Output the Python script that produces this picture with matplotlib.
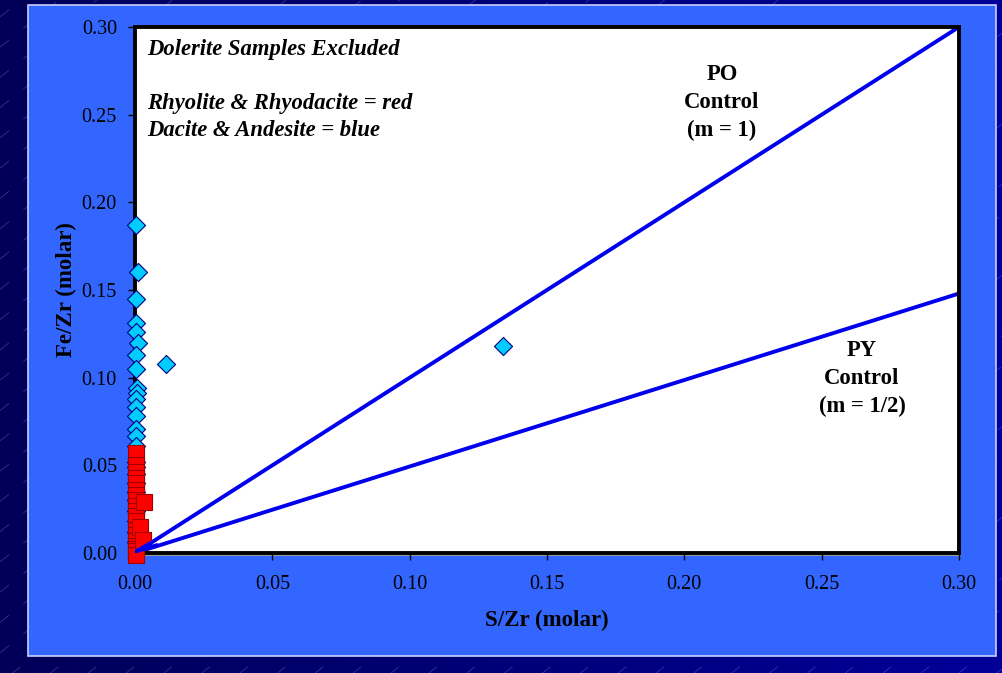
import matplotlib
matplotlib.use("Agg")
import matplotlib.pyplot as plt
import numpy as np
from matplotlib.patches import Rectangle
from matplotlib.colors import LinearSegmentedColormap

# ---- data ----
blue_x = [0.0004, 0.0012, 0.0004, 0.0004, 0.0004, 0.0012, 0.0004, 0.0004, 0.0006, 0.0008,
          0.0004, 0.0004, 0.0004, 0.0004, 0.0004, 0.0004, 0.0004, 0.0004, 0.0004, 0.0004,
          0.0004, 0.0004, 0.0004, 0.0004, 0.0004, 0.0004, 0.0113, 0.134]
blue_y = [0.187, 0.160, 0.145, 0.131, 0.126, 0.120, 0.113, 0.105, 0.094, 0.091,
          0.088, 0.083, 0.078, 0.071, 0.067, 0.061, 0.052, 0.049, 0.045, 0.040,
          0.035, 0.030, 0.024, 0.018, 0.012, 0.006, 0.108, 0.118]

red_x = [0.0005, 0.0005, 0.0005, 0.0005, 0.0005, 0.0005, 0.0005, 0.0005, 0.0005, 0.0005,
         0.0005, 0.0005, 0.0005, 0.0005, 0.0005, 0.0005, 0.0005, 0.0005, 0.0005, 0.0033,
         0.0020, 0.0030]
red_y = [0.057, 0.050, 0.046, 0.043, 0.040, 0.036, 0.033, 0.030, 0.027, 0.024,
         0.021, 0.018, 0.013, 0.010, 0.007, 0.004, 0.002, 0.001, -0.001, 0.029,
         0.015, 0.0075]

po_x = [0.0, 0.30]
po_y = [0.0, 0.30]
py_x = [0.0, 0.30]
py_y = [0.0, 0.148]

ticks = [0.00, 0.05, 0.10, 0.15, 0.20, 0.25, 0.30]
tick_labels = ["0.00", "0.05", "0.10", "0.15", "0.20", "0.25", "0.30"]

W, H = 1003, 673
fig = plt.figure(figsize=(W / 100, H / 100), dpi=100)

# background gradient
bg = fig.add_axes([0, 0, 1, 1], zorder=-10)
grad = np.linspace(0, 1, 256).reshape(1, -1)
cmap = LinearSegmentedColormap.from_list("bg", ["#000058", "#000078", "#000099"])
bg.imshow(grad, aspect="auto", cmap=cmap, extent=[0, 1, 0, 1])
for c in np.arange(-1.5, 1.0, 0.045):
    xs = np.array([0, 1])
    ys = c + xs * (W / H) * 0.8
    bg.plot(xs, ys, color="#8080dd", lw=0.6, alpha=0.4, ls=(0, (14, 22)))
bg.set_xlim(0, 1)
bg.set_ylim(0, 1)
bg.axis("off")

# blue panel
px0, px1, py0, py1 = 28 / W, 996 / W, 1 - 656 / H, 1 - 5 / H
fig.patches.append(Rectangle((px0, py0), px1 - px0, py1 - py0, transform=fig.transFigure,
                             facecolor="#3366FF", edgecolor="#c8d0ff", lw=1.2, zorder=-5))

# shadow of plot area
ax_l, ax_r, ax_t, ax_b = 135 / W, 959 / W, 1 - 27 / H, 1 - 553 / H
fig.patches.append(Rectangle((ax_l + 2 / W, ax_b - 3 / H), ax_r - ax_l, ax_t - ax_b,
                             transform=fig.transFigure, facecolor="#9a9a9a",
                             edgecolor="none", zorder=-4))

ax = fig.add_axes([ax_l, ax_b, ax_r - ax_l, ax_t - ax_b])
ax.set_facecolor("white")
for s in ax.spines.values():
    s.set_linewidth(2.8)
    s.set_color("black")

ax.plot(po_x, po_y, color="#0000EE", lw=2.8, zorder=2, solid_capstyle="round")
ax.plot(py_x, py_y, color="#0000EE", lw=2.8, zorder=2, solid_capstyle="round")

ax.scatter(blue_x, blue_y, marker="D", s=85, facecolor="#00CCFF", edgecolor="#000080",
           linewidth=0.8, zorder=3, clip_on=False)
ax.scatter(red_x, red_y, marker="s", s=125, facecolor="#FF0000", edgecolor="#A00000",
           linewidth=0.8, zorder=4, clip_on=False)
# line origins drawn over the red markers near (0, 0)
ax.plot([0.0005, 0.006], [0.001, 0.006], color="#0000EE", lw=2.8, zorder=5,
        solid_capstyle="round")
ax.plot([0.0005, 0.008], [0.001, 0.0045], color="#0000EE", lw=2.8, zorder=5,
        solid_capstyle="round")

ax.set_xlim(0, 0.30)
ax.set_ylim(0, 0.30)
ax.set_xticks(ticks)
ax.set_yticks(ticks)
ax.set_xticklabels(tick_labels)
ax.set_yticklabels(tick_labels)
ax.tick_params(direction="out", length=5, width=1, color="black", labelsize=14.5,
               labelcolor="black")
ax.tick_params(axis="x", pad=11)
ax.tick_params(axis="y", pad=8)
for lab in ax.get_xticklabels() + ax.get_yticklabels():
    lab.set_family("Liberation Serif")

serif = "Liberation Serif"
fig.text((135 + 959) / 2 / W, 1 - 620 / H, "S/Zr (molar)", ha="center", va="center",
         fontsize=16.5, fontweight="bold", family=serif, color="black")
fig.text(66 / W, 1 - 290 / H, "Fe/Zr (molar)", ha="center", va="center", rotation=90,
         fontsize=16.5, fontweight="bold", family=serif, color="black")

def axfrac(px, py):
    return ((px - 135) / (959 - 135), (553 - py) / (553 - 27))

for txt, py in [("Dolerite Samples Excluded", 49),
                ("Rhyolite & Rhyodacite = red", 104),
                ("Dacite & Andesite = blue", 131)]:
    x, y = axfrac(147, py)
    ax.text(x, y, txt, transform=ax.transAxes, ha="left", va="center", fontsize=16.3,
            fontweight="bold", fontstyle="italic", family=serif, color="black")

for txt, py in [("PO", 75), ("Control", 102), ("(m = 1)", 130)]:
    x, y = axfrac(722, py)
    ax.text(x, y, txt, transform=ax.transAxes, ha="center", va="center", fontsize=16.3,
            fontweight="bold", family=serif, color="black")

for txt, py in [("PY", 350), ("Control", 378), ("(m = 1/2)", 406)]:
    x, y = axfrac(862, py)
    ax.text(x, y, txt, transform=ax.transAxes, ha="center", va="center", fontsize=16.3,
            fontweight="bold", family=serif, color="black")

fig.savefig("out.png", dpi=100)
